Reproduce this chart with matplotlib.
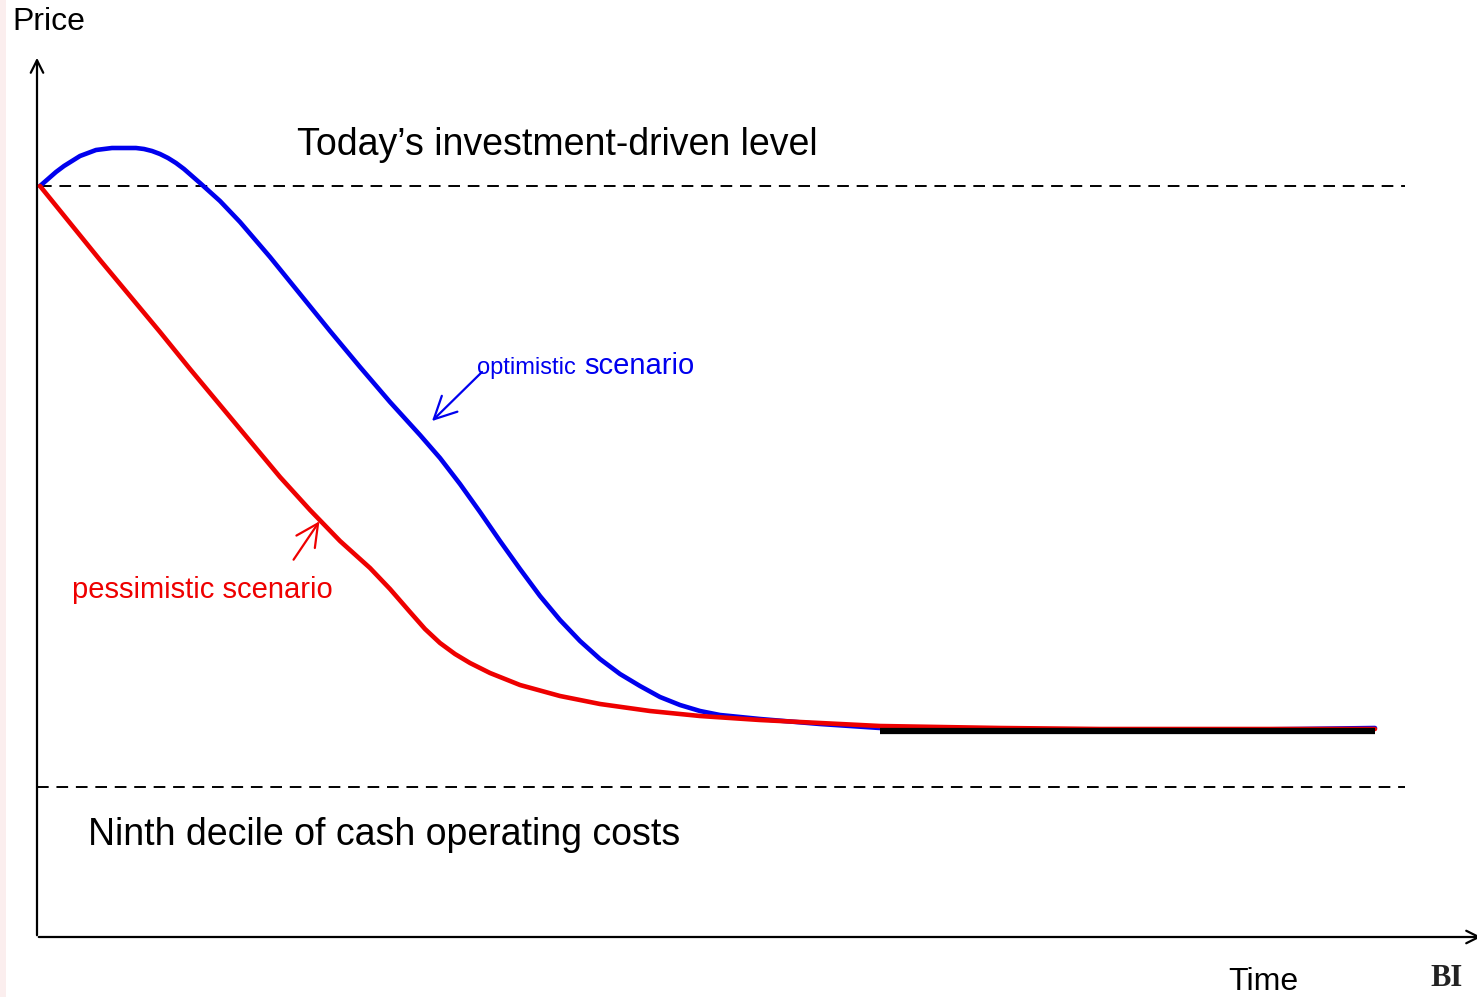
import matplotlib.pyplot as plt
from matplotlib.patches import FancyArrowPatch

plt.rcParams['font.family'] = ['Liberation Sans', 'DejaVu Sans']

# curve points (x = time, y = price; screen units, y grows downward)
opt_time = [40, 48, 56, 64, 72, 80, 88, 96, 104, 112, 120, 128, 136, 144, 152, 160, 168, 176, 184,
            192, 200, 210, 220, 240, 270, 300, 330, 360, 390, 420, 440, 460, 480, 500, 520, 540,
            560, 580, 600, 620, 640, 660, 680, 700, 720, 760, 820, 880, 1000, 1100, 1200, 1300, 1375]
opt_price = [186, 179, 172, 166, 161, 156, 153, 150, 149, 148, 148, 148, 148, 149, 151, 154, 158, 163,
             169, 176, 183, 192, 201, 222, 257, 294, 331, 367, 402, 435, 458, 484, 512, 541, 569, 596,
             620, 641, 659, 674, 686, 697, 705, 711, 715, 719, 724, 728, 731, 731, 730, 729, 728]
pes_time = [40, 70, 100, 130, 160, 190, 220, 250, 280, 310, 340, 370, 390, 410, 425, 440, 455, 470,
            490, 520, 560, 600, 650, 700, 760, 820, 880, 1000, 1100, 1200, 1375]
pes_price = [186, 223, 260, 296, 332, 369, 405, 441, 477, 510, 541, 568, 589, 612, 629, 643, 654, 663,
             673, 685, 696, 704, 711, 716, 720, 723, 726, 728, 729, 729, 729]
floor_time = [880, 1375]
floor_price = [731, 731]

investment_level = 186
cost_level = 787

fig = plt.figure(figsize=(14.77, 9.97), dpi=100)
ax = fig.add_axes([0, 0, 1, 1])
ax.set_xlim(0, 1477)
ax.set_ylim(997, 0)
ax.axis('off')

# faint pink strip on the left edge
ax.axvspan(0, 6, color='#fbeeee', lw=0)

# reference levels
ax.plot([40, 1405], [investment_level, investment_level], color='black', lw=1.4, ls=(0, (6, 4)))
ax.plot([37, 1405], [cost_level, cost_level], color='black', lw=1.4, ls=(0, (6, 4)))

# scenarios
ax.plot(opt_time, opt_price, color='#0000ee', lw=3.3, solid_capstyle='round', zorder=3)
ax.plot(pes_time, pes_price, color='#ee0000', lw=3.3, solid_capstyle='round', zorder=4)
ax.plot(floor_time, floor_price, color='black', lw=4.5, solid_capstyle='butt', zorder=5)

# axes with open arrow heads
ax.annotate('', xy=(37, 55), xytext=(37, 938), annotation_clip=False,
            arrowprops=dict(arrowstyle='->,head_length=0.9,head_width=0.45', color='black', lw=1.6))
ax.annotate('', xy=(1484, 937), xytext=(36, 937), annotation_clip=False,
            arrowprops=dict(arrowstyle='->,head_length=0.9,head_width=0.45', color='black', lw=1.6))

# labels
ax.text(12, 22, 'Price', fontsize=23, ha='left', va='center')
ax.text(1263, 982, 'Time', fontsize=23, ha='center', va='center')
ax.text(297, 145, 'Today\u2019s investment-driven level', fontsize=27, ha='left', va='center')
ax.text(88, 835, 'Ninth decile of cash operating costs', fontsize=27, ha='left', va='center')
ax.text(72, 590, 'pessimistic scenario', fontsize=21, color='#ee0000', ha='left', va='center')
ax.text(477, 368, 'optimistic', fontsize=17, color='#0000ee', ha='left', va='center')
ax.text(584, 366, 'scenario', fontsize=21, color='#0000ee', ha='left', va='center')
ax.text(1430, 964, 'BI', fontsize=22, fontweight='bold', family='Liberation Serif', color='#222222',
        ha='left', va='top')

ax.add_patch(FancyArrowPatch((484, 370), (430, 423), arrowstyle='->,head_length=8,head_width=4',
                             color='#0000ee', lw=1.6, mutation_scale=2))
ax.add_patch(FancyArrowPatch((292, 562), (321, 519), arrowstyle='->,head_length=8,head_width=4',
                             color='#ee0000', lw=1.6, mutation_scale=2))

fig.savefig('out.png', dpi=100)
